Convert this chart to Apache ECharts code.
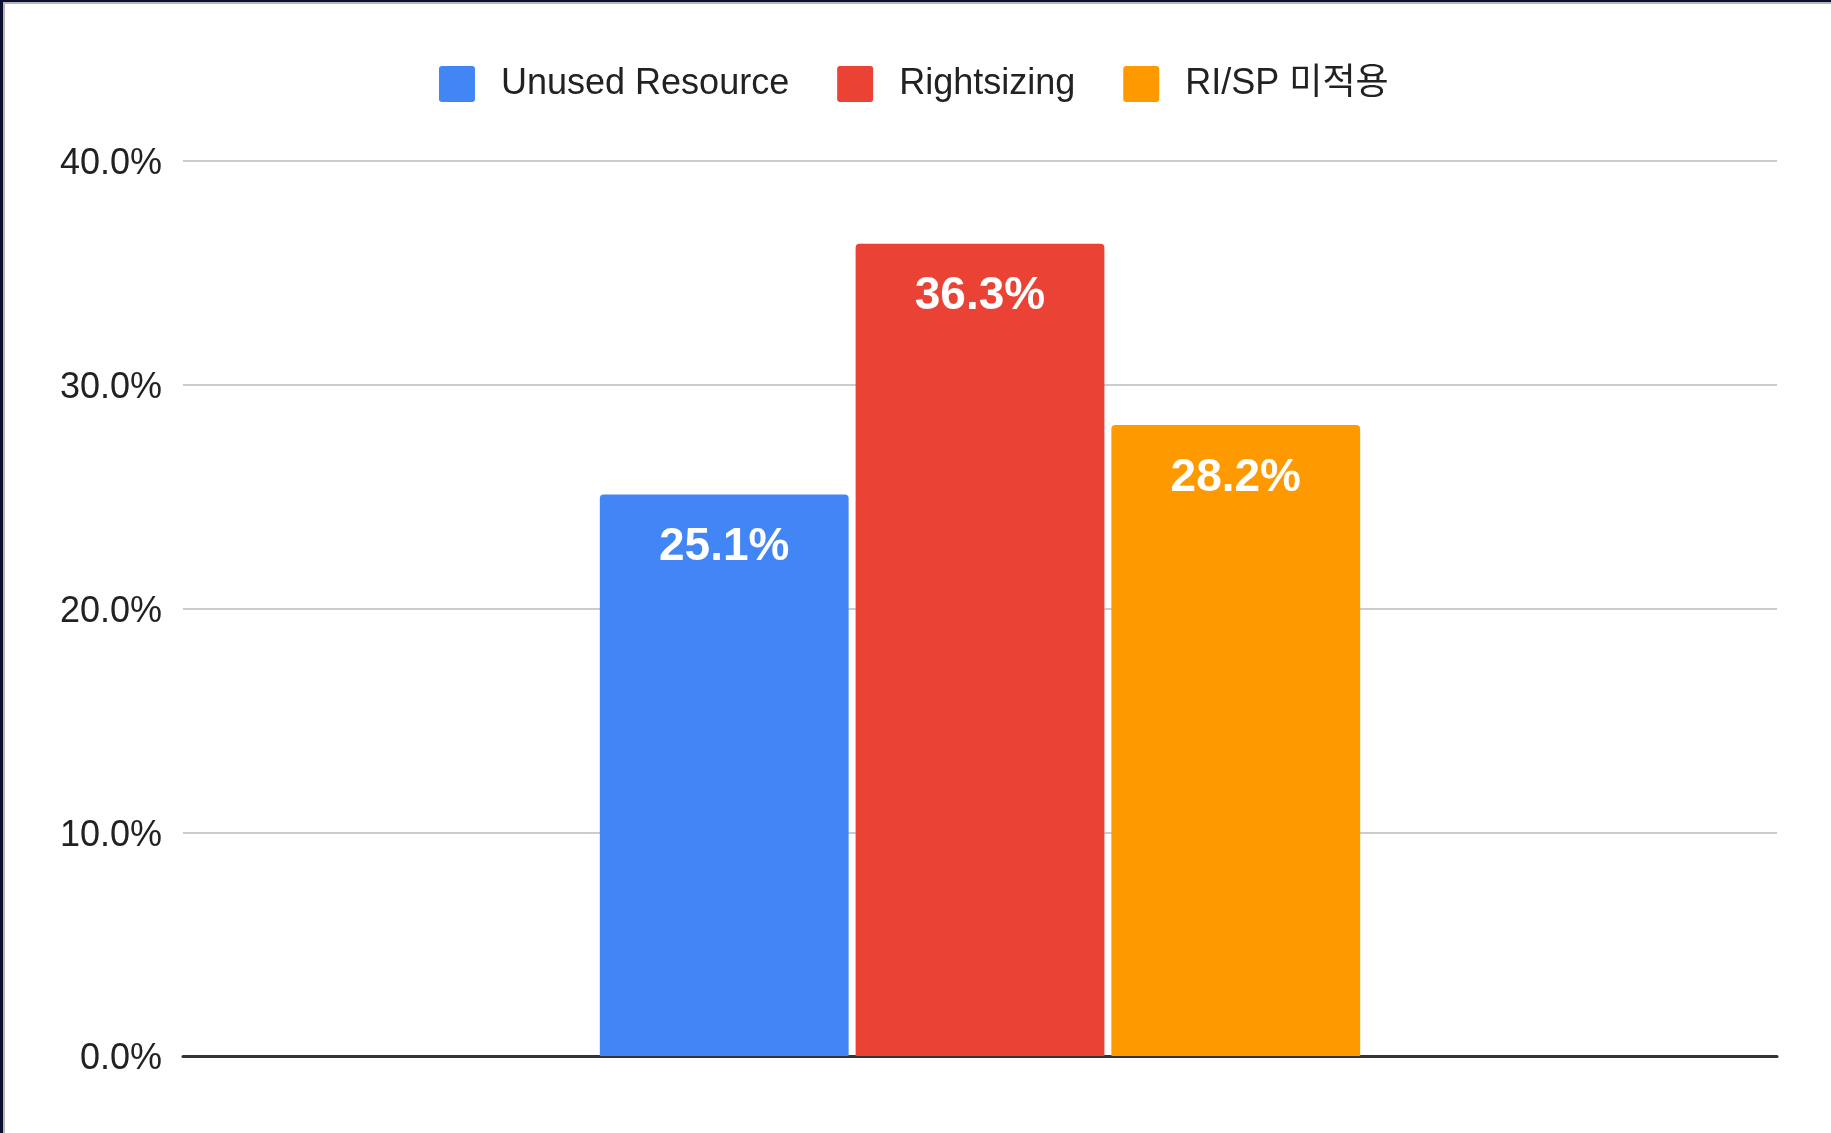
<!DOCTYPE html>
<html>
<head>
<meta charset="utf-8">
<title>Savings breakdown</title>
<script src="https://cdn.jsdelivr.net/npm/echarts@6/dist/echarts.min.js"></script>
<style>
  html, body { margin: 0; padding: 0; background: #fff; }
  #chart { width: 1831px; height: 1133px; }
  .edge { position: absolute; pointer-events: none; }
</style>
</head>
<body>
<div id="chart"></div>
<div class="edge" style="left:0;top:0;width:1831px;height:2px;background:#0b1030"></div>
<div class="edge" style="left:0;top:2px;width:1831px;height:2px;background:#b8b8b8"></div>
<div class="edge" style="left:0;top:0;width:3px;height:1133px;background:#0b1030"></div>
<div class="edge" style="left:3px;top:2px;width:2px;height:1131px;background:#b8b8b8"></div>
<script>
// 절감 항목별 비중 (막대 3개, 카테고리 1개)
var categories = [""];
var seriesNames = ["Unused Resource", "Rightsizing", "RI/SP 미적용"];
var seriesValues = [[25.1], [36.3], [28.2]];
var seriesColors = ["#4285f4", "#ea4335", "#ff9900"];
var yTicks = [0, 10, 20, 30, 40];

var fontFamily = "'Liberation Sans', Arial, 'Noto Sans CJK KR', sans-serif";
// 범례 아이콘: 모서리만 살짝 둥근 사각형
var legendIcon = "path://M3,0 H33 Q36,0 36,3 V33 Q36,36 33,36 H3 Q0,36 0,33 V3 Q0,0 3,0 Z";

function pct(v) {
  return Number(v).toFixed(1) + "%";
}

var series = seriesNames.map(function (name, i) {
  return {
    name: name,
    type: "bar",
    data: seriesValues[i],
    barCategoryGap: "52.3%",
    barGap: "2.8%",
    itemStyle: {
      color: seriesColors[i],
      borderRadius: [4, 4, 0, 0]
    },
    label: {
      show: true,
      position: "insideTop",
      distance: 30,
      color: "#ffffff",
      fontFamily: fontFamily,
      fontWeight: "bold",
      fontSize: 46,
      formatter: function (p) { return pct(p.value); }
    }
  };
});

var myChart = echarts.init(document.getElementById("chart"));
myChart.setOption({
  animation: false,
  textStyle: { fontFamily: fontFamily },
  legend: {
    data: seriesNames,
    top: 66,
    left: 439,
    padding: 0,
    icon: legendIcon,
    itemWidth: 36,
    itemHeight: 36,
    itemGap: 48,
    textStyle: {
      fontSize: 36,
      color: "#222222",
      fontFamily: fontFamily,
      padding: [0, 0, 0, 21]
    }
  },
  grid: {
    left: 183,
    right: 54,
    top: 161,
    bottom: 77
  },
  xAxis: {
    type: "category",
    data: categories,
    axisTick: { show: false },
    axisLabel: { show: false },
    axisLine: {
      show: true,
      lineStyle: { color: "#333333", width: 3 }
    }
  },
  yAxis: {
    type: "value",
    min: yTicks[0],
    max: yTicks[yTicks.length - 1],
    interval: yTicks[1] - yTicks[0],
    axisLine: { show: false },
    axisTick: { show: false },
    axisLabel: {
      margin: 21,
      fontSize: 36,
      color: "#222222",
      fontFamily: fontFamily,
      formatter: function (v) { return "{v|" + pct(v) + "}"; },
      rich: {
        v: {
          fontSize: 36,
          color: "#222222",
          fontFamily: fontFamily,
          padding: [7, 0, 0, 0]
        }
      }
    },
    splitLine: {
      lineStyle: { color: "#cccccc", width: 2 }
    }
  },
  series: series
});
</script>
</body>
</html>
